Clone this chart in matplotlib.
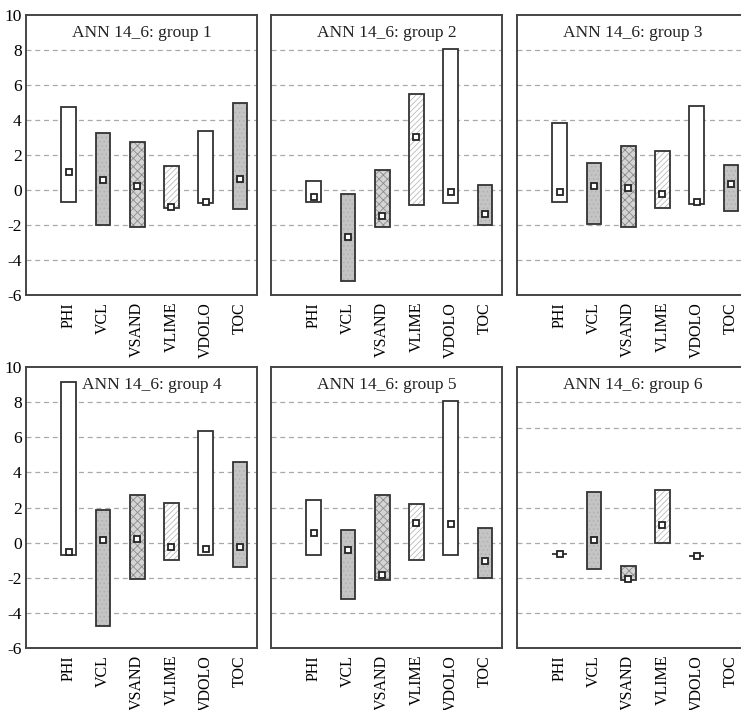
import matplotlib
matplotlib.use('Agg')
import matplotlib.pyplot as plt
import numpy as np

plt.rcParams['font.family'] = ['Liberation Serif', 'DejaVu Serif']
plt.rcParams['hatch.linewidth'] = 0.6

variables = ['PHI', 'VCL', 'VSAND', 'VLIME', 'VDOLO', 'TOC']
groups = ['ANN 14_6: group 1', 'ANN 14_6: group 2', 'ANN 14_6: group 3',
          'ANN 14_6: group 4', 'ANN 14_6: group 5', 'ANN 14_6: group 6']

# 每组：上限、下限、中心值 (None = 无数据)
g1_top = [4.72, 3.23, 2.73, 1.35, 3.40, 4.97]
g1_bot = [-0.66, -1.99, -2.09, -1.02, -0.76, -1.06]
g1_mid = [1.02, 0.55, 0.21, -0.99, -0.70, 0.61]

g2_top = [0.51, -0.23, 1.12, 5.50, 8.06, 0.27]
g2_bot = [-0.68, -5.20, -2.09, -0.83, -0.72, -2.01]
g2_mid = [-0.38, -2.68, -1.46, 3.02, -0.11, -1.39]

g3_top = [3.83, 1.52, 2.50, 2.24, 4.82, 1.42]
g3_bot = [-0.66, -1.92, -2.09, -1.01, -0.80, -1.21]
g3_mid = [-0.09, 0.25, 0.13, -0.23, -0.68, 0.36]

g4_top = [9.12, 1.83, 2.70, 2.27, 6.34, 4.61]
g4_bot = [-0.70, -4.72, -2.08, -1.01, -0.72, -1.41]
g4_mid = [-0.55, 0.17, 0.21, -0.25, -0.38, -0.25]

g5_top = [2.42, 0.72, 2.74, 2.21, 8.04, 0.82]
g5_bot = [-0.69, -3.20, -2.10, -1.01, -0.72, -2.04]
g5_mid = [0.57, -0.40, -1.83, 1.10, 1.05, -1.07]

g6_top = [-0.65, 2.90, -1.31, 2.97, -0.74, None]
g6_bot = [-0.65, -1.49, -2.10, -0.02, -0.74, None]
g6_mid = [-0.65, 0.13, -2.06, 0.99, -0.74, None]

tops = [g1_top, g2_top, g3_top, g4_top, g5_top, g6_top]
bots = [g1_bot, g2_bot, g3_bot, g4_bot, g5_bot, g6_bot]
mids = [g1_mid, g2_mid, g3_mid, g4_mid, g5_mid, g6_mid]

grid_std = [8, 6, 4, 2, 0, -2, -4]
grid_g6 = [8, 6.5, 4, 2, 0, -2, -4]

# 各变量的填充样式
face = ['white', '#c4c4c4', '#d4d4d4', 'white', 'white', '#c4c4c4']
hatch = [None, '....', 'xxxx', '//////', None, '....']
hatch_col = [None, '#b0b0b0', '#8c8c8c', '#bbbbbb', None, '#b0b0b0']

W, H = 741, 710
fig = plt.figure(figsize=(W / 100, H / 100), dpi=100)

lefts = [26, 271, 517]
rows = [(15, 295), (367, 648)]

x = np.arange(len(variables))
for i in range(6):
    r, c = divmod(i, 3)
    y0, y1 = rows[r]
    ax = fig.add_axes([lefts[c] / W, 1 - y1 / H, 231 / W, (y1 - y0) / H])
    ax.set_xlim(-1.25, 5.5)
    ax.set_ylim(-6, 10)
    grid = grid_g6 if i == 5 else grid_std
    for g in grid:
        ax.axhline(g, color='#aaaaaa', lw=0.9, ls=(0, (4, 3)), zorder=0)

    for j in range(len(variables)):
        t, b, m = tops[i][j], bots[i][j], mids[i][j]
        if t is None:
            continue
        if hatch[j]:
            ax.bar(x[j], t - b, bottom=b, width=0.43, color=face[j],
                   edgecolor=hatch_col[j], hatch=hatch[j], lw=0, zorder=2)
        else:
            ax.bar(x[j], t - b, bottom=b, width=0.43, color=face[j],
                   lw=0, zorder=2)
        ax.bar(x[j], t - b, bottom=b, width=0.43, fill=False,
               edgecolor='#333333', lw=1.3, zorder=3)
        ax.plot(x[j], m, 's', ms=5, mfc='white', mec='#222222', mew=1.3, zorder=4)

    # group 4 的标题稍微右移，避开 PHI 柱
    tx = 0.545 if i == 3 else 0.5
    ax.text(tx, 0.935, groups[i], transform=ax.transAxes, ha='center', va='center',
            fontsize=12.5, color='#222222', zorder=1)

    ax.set_yticks(range(-6, 11, 2))
    if c == 0:
        ax.set_yticklabels([str(v) for v in range(-6, 11, 2)], fontsize=12.5)
    else:
        ax.set_yticklabels([])
    ax.tick_params(axis='y', length=0, pad=3)
    ax.set_xticks(x)
    ax.set_xticklabels(variables, rotation=90, fontsize=11.5)
    ax.tick_params(axis='x', length=0, pad=5)
    for s in ax.spines.values():
        s.set_color('#444444')
        s.set_linewidth(1.4)

plt.savefig('out.png', dpi=100)
